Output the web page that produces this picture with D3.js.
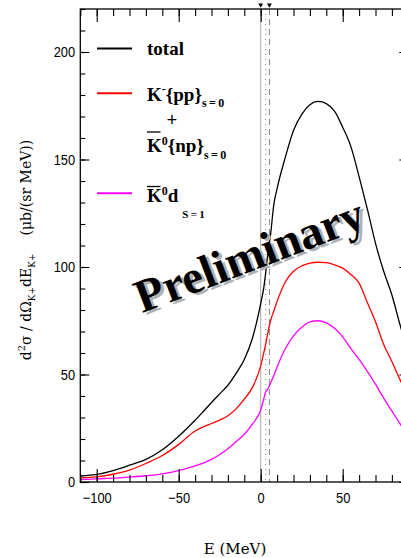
<!DOCTYPE html>
<html>
<head>
<meta charset="utf-8">
<script src="https://cdn.jsdelivr.net/npm/d3@7"></script>
<style>
body { margin: 0; background: #fff; }
svg { display: block; }
</style>
</head>
<body>
<div id="chart"></div>
<script>
// energy grid (MeV) and the three curves
const energy = [-110, -100, -90, -80, -70, -60, -50, -40, -35, -30, -25, -20, -15, -10, -5, 0, 2, 3, 4, 6, 8, 10, 15, 20, 25, 30, 35, 40, 45, 50, 55, 60, 65, 70, 75, 80, 85, 90];
const total = [2.8, 3.5, 5.3, 7.8, 10.5, 15, 21.3, 28.7, 32.8, 37, 41, 45, 50.5, 57, 67, 83, 91, 97, 104, 115, 129, 136.5, 151, 163.5, 171, 175.5, 177, 176, 172.5, 165, 156, 142, 127, 111, 98, 87, 73, 60];
const kMinusPP = [1.9, 2.4, 3.6, 5.5, 8.6, 12.3, 17.5, 23.7, 25.6, 27.2, 28.8, 30.8, 34, 38.5, 44, 54, 60.5, 64, 68, 75, 79.5, 84, 93, 98, 100.5, 101.8, 102.2, 102, 101, 99.5, 96.5, 92.5, 83.5, 74.5, 64, 56, 47.5, 40];
const kBar0d = [1.1, 1.5, 1.8, 2.3, 2.9, 3.8, 5.3, 7.5, 8.8, 10.5, 12.8, 15.5, 18.8, 22.2, 27, 33.5, 39, 42, 42.8, 46, 49.5, 53.5, 62, 68, 72, 74.5, 75, 74, 71.5, 67.5, 62, 57, 51.5, 45.5, 39, 33, 27, 21];

const seriesNames = ["total", "K-{pp}+K0{np}", "K0d"];
const seriesColors = ["#000000", "#ff0000", "#ff00ff"];

// threshold markers (MeV)
const thresholds = [0, 3, 5.3];
const thresholdStyles = ["none", "1,4", "6,4"];
const topMarkers = [0, 5.3];

const xMajor = [-100, -50, 0, 50];
const xMinor = d3.range(-110, 91, 10);
const yMajor = [0, 50, 100, 150, 200];
const yMinor = d3.range(0, 221, 10);

const serif = '"Liberation Serif"';
const sans = '"Liberation Sans"';
const cm = '"DejaVu Serif"';

const width = 401, height = 558;
const plotL = 80.3, plotR = 408.3, plotT = 9, plotB = 482;

const svg = d3.select("#chart").append("svg")
  .attr("width", width)
  .attr("height", height);

const x = d3.scaleLinear().domain([-110, 90]).range([plotL, plotR]);
const y = d3.scaleLinear().domain([0, 220]).range([plotB, plotT]);

svg.append("clipPath").attr("id", "clip")
  .append("rect")
  .attr("x", plotL).attr("y", plotT)
  .attr("width", plotR - plotL).attr("height", plotB - plotT);

// threshold lines
svg.append("g")
  .selectAll("line")
  .data(thresholds)
  .enter()
  .append("line")
  .attr("x1", d => x(d)).attr("x2", d => x(d))
  .attr("y1", plotT).attr("y2", plotB)
  .attr("stroke", (d, i) => i === 0 ? "#aaa" : "#888")
  .attr("stroke-width", 1)
  .attr("stroke-dasharray", (d, i) => thresholdStyles[i]);

svg.append("g")
  .selectAll("path")
  .data(topMarkers)
  .enter()
  .append("path")
  .attr("d", d3.symbol().type(d3.symbolTriangle).size(10))
  .attr("transform", d => `translate(${x(d)},${plotT - 4}) rotate(180)`)
  .attr("fill", "#000");

// curves
const line = d3.line()
  .x((d, i) => x(energy[i]))
  .y(d => y(d))
  .curve(d3.curveMonotoneX);

svg.append("g")
  .attr("clip-path", "url(#clip)")
  .selectAll("path")
  .data([total, kMinusPP, kBar0d])
  .enter()
  .append("path")
  .attr("d", line)
  .attr("fill", "none")
  .attr("stroke", (d, i) => seriesColors[i])
  .attr("stroke-width", 1.3);

// axes, ticks pointing inward on all four sides
function clean(g) {
  g.select(".domain").remove();
  g.selectAll(".tick line").attr("stroke", "#000").attr("stroke-width", 1.1);
  g.attr("font-family", sans).attr("font-size", 15);
  g.selectAll(".tick text").attr("fill", "#000").attr("transform", "scale(0.86,1)");
}

svg.append("g").attr("transform", `translate(0,${plotB})`)
  .call(d3.axisBottom(x).tickValues(xMinor).tickSize(-7).tickFormat(""))
  .call(clean);
svg.append("g").attr("transform", `translate(0,${plotB})`)
  .call(d3.axisBottom(x).tickValues(xMajor).tickSizeInner(-13).tickSizeOuter(0).tickPadding(10)
    .tickFormat(d => d < 0 ? "\u2212" + Math.abs(d) : d))
  .call(clean);
svg.append("g").attr("transform", `translate(0,${plotT})`)
  .call(d3.axisTop(x).tickValues(xMinor).tickSize(-7).tickFormat(""))
  .call(clean);
svg.append("g").attr("transform", `translate(0,${plotT})`)
  .call(d3.axisTop(x).tickValues(xMajor).tickSize(-13).tickFormat(""))
  .call(clean);

svg.append("g").attr("transform", `translate(${plotL},0)`)
  .call(d3.axisLeft(y).tickValues(yMinor).tickSize(-5).tickFormat(""))
  .call(clean);
svg.append("g").attr("transform", `translate(${plotL},0)`)
  .call(d3.axisLeft(y).tickValues(yMajor).tickSizeInner(-9).tickSizeOuter(0).tickPadding(6))
  .call(clean);
svg.append("g").attr("transform", `translate(${plotR},0)`)
  .call(d3.axisRight(y).tickValues(yMinor).tickSize(-5).tickFormat(""))
  .call(clean);
svg.append("g").attr("transform", `translate(${plotR},0)`)
  .call(d3.axisRight(y).tickValues(yMajor).tickSize(-9).tickFormat(""))
  .call(clean);

svg.append("rect")
  .attr("x", plotL).attr("y", plotT)
  .attr("width", plotR - plotL).attr("height", plotB - plotT)
  .attr("fill", "none")
  .attr("stroke", "#000")
  .attr("stroke-width", 1.3);

// axis titles
svg.append("text")
  .attr("font-family", cm).attr("font-size", 15)
  .attr("x", 235).attr("y", 554)
  .attr("text-anchor", "middle")
  .text("E (MeV)");

const yt = svg.append("text")
  .attr("font-family", cm).attr("font-size", 14)
  .attr("transform", "translate(31,250) rotate(-90)")
  .attr("text-anchor", "middle");
yt.append("tspan").text("d");
yt.append("tspan").attr("font-size", 10).attr("dy", -6).text("2");
yt.append("tspan").attr("dy", 6).text("\u03c3 / d\u03a9");
yt.append("tspan").attr("font-size", 9).attr("dy", 4).text("K+");
yt.append("tspan").attr("dy", -4).text("dE");
yt.append("tspan").attr("font-size", 9).attr("dy", 4).text("K+");
yt.append("tspan").attr("dy", -4).attr("dx", 18).text("(\u03bcb/(sr MeV))");

// legend
const legendY = [48.5, 93.3, 193.3];
svg.append("g")
  .selectAll("line")
  .data(seriesNames)
  .enter()
  .append("line")
  .attr("x1", 97).attr("x2", 132)
  .attr("y1", (d, i) => legendY[i]).attr("y2", (d, i) => legendY[i])
  .attr("stroke", (d, i) => seriesColors[i])
  .attr("stroke-width", 2);

function legendText(xx, yy) {
  return svg.append("text")
    .attr("font-family", serif).attr("font-weight", "bold").attr("font-size", 19)
    .attr("x", xx).attr("y", yy);
}

legendText(147, 55).text("total");

const t1 = legendText(147, 100.5);
t1.append("tspan").text("K");
t1.append("tspan").attr("font-size", 12).attr("dy", -8).text("-");
t1.append("tspan").attr("dy", 8).text("{pp}");
t1.append("tspan").attr("font-size", 12).attr("dy", 6).text("s\u2009=\u20090");

legendText(172, 126).attr("text-anchor", "middle").text("+");

const t2 = legendText(147, 151.5);
t2.append("tspan").text("K");
t2.append("tspan").attr("font-size", 12).attr("dy", -7).text("0");
t2.append("tspan").attr("dy", 7).text("{np}");
t2.append("tspan").attr("font-size", 12).attr("dy", 7).text("s\u2009=\u20090");

const t3 = legendText(147, 201.5);
t3.append("tspan").text("K");
t3.append("tspan").attr("font-size", 12).attr("dy", -7).text("0");
t3.append("tspan").attr("dy", 7).text("d");
t3.append("tspan").attr("font-size", 11).attr("dx", 4).attr("dy", 16).text("S\u2009=\u20091");

// overbars on K
[132, 186.5].forEach(yy => {
  svg.append("line")
    .attr("x1", 147).attr("x2", 160.5)
    .attr("y1", yy).attr("y2", yy)
    .attr("stroke", "#000").attr("stroke-width", 1.3);
});

// watermark
const wm = svg.append("g").attr("transform", "translate(255,270) rotate(-21)");
wm.append("text")
  .attr("x", 2.5).attr("y", 3)
  .attr("text-anchor", "middle")
  .attr("font-family", serif)
  .attr("font-weight", "bold")
  .attr("font-size", 47)
  .attr("fill", "#b0b0b0")
  .text("Preliminary");
wm.append("text")
  .attr("text-anchor", "middle")
  .attr("font-family", serif)
  .attr("font-weight", "bold")
  .attr("font-size", 47)
  .attr("fill", "#000")
  .text("Preliminary");
</script>
</body>
</html>
